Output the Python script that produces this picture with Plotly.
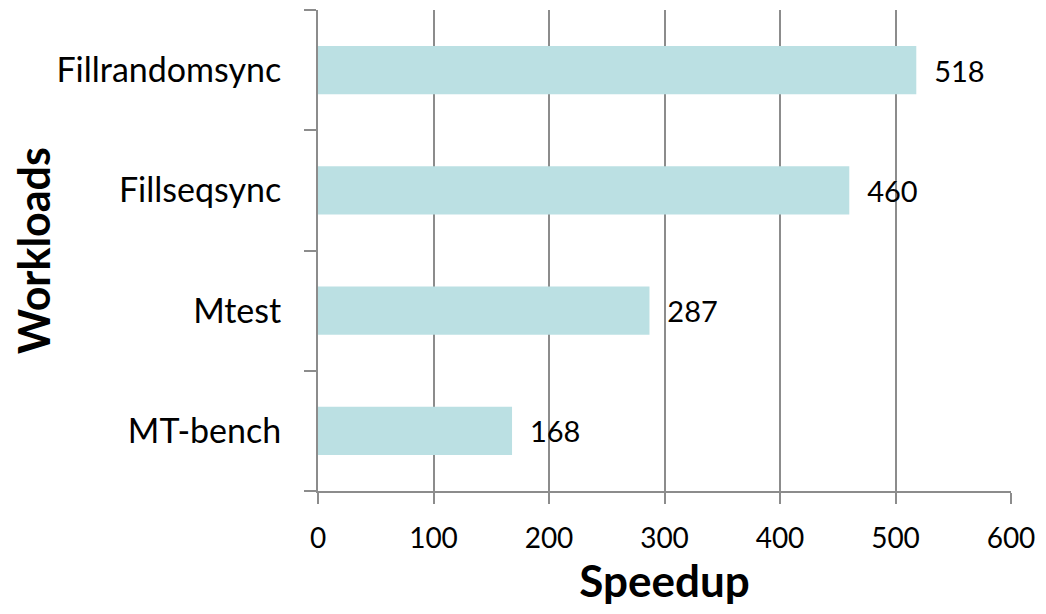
import plotly.graph_objects as go

categories = ["MT-bench", "Mtest", "Fillseqsync", "Fillrandomsync"]
speedup = [168, 287, 460, 518]
tick_vals = [0, 100, 200, 300, 400, 500, 600]

fig = go.Figure(go.Bar(
    x=speedup, y=categories, orientation="h",
    marker=dict(color="#BBE0E3", line=dict(width=0)),
    text=["\u00a0\u00a0" + str(v) for v in speedup], textposition="outside",
    textfont=dict(size=29, color="black", family="Lato"),
    cliponaxis=False,
))

fig.update_layout(
    width=1038, height=598,
    margin=dict(l=310, r=35, t=2, b=115, autoexpand=False),
    paper_bgcolor="white", plot_bgcolor="white",
    bargap=0.6,
    font=dict(family="Lato", color="black"),
    showlegend=False,
)
fig.update_xaxes(
    range=[0, 600], tickvals=tick_vals, ticktext=[str(v) for v in tick_vals],
    showgrid=True, gridcolor="#8C8C8C", gridwidth=1.5,
    showline=True, linecolor="#8C8C8C", linewidth=2,
    ticks="outside", ticklen=11, tickcolor="#8C8C8C", tickwidth=2,
    tickfont=dict(size=28, family="Lato"), ticklabelstandoff=10,
    ticklabeloverflow="allow",
    title=dict(text="<b>Speedup</b>", font=dict(size=44, family="Lato"), standoff=21),
    zeroline=False, automargin=False,
)
fig.update_yaxes(
    showline=True, linecolor="#8C8C8C", linewidth=2,
    ticks="outside", ticklen=12, tickcolor="#8C8C8C", tickwidth=2,
    tickson="boundaries", showgrid=False,
    tickfont=dict(size=34, family="Lato"),
    title=dict(text="<b>Workloads</b>", font=dict(size=43, family="Lato"), standoff=4),
    ticklabelstandoff=28, automargin=False,
)

fig.write_html("out.html")
